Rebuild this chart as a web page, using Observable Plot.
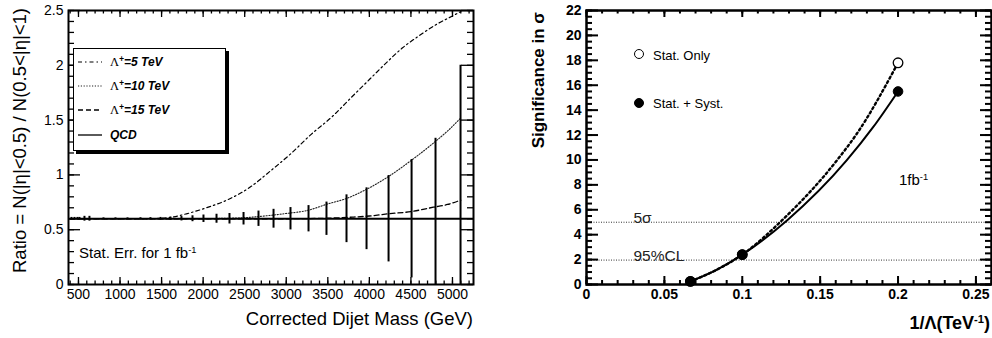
<!DOCTYPE html>
<html><head><meta charset="utf-8">
<script src="https://cdn.jsdelivr.net/npm/d3@7"></script>
<script src="https://cdn.jsdelivr.net/npm/@observablehq/plot@0.6"></script>
<style>
body{margin:0;background:#fff;}
#wrap{position:relative;width:992px;height:338px;overflow:hidden;background:#fff;font-family:"Liberation Sans",Arial,Helvetica,sans-serif;color:#000;}
.abs{position:absolute;white-space:nowrap;line-height:1;}
.sup{font-size:0.62em;position:relative;top:-0.5em;}
#leg{position:absolute;left:73px;top:48px;width:151px;height:101px;border:1px solid #000;box-shadow:3px 3px 0 #000;background:#fff;}
#leg .row{position:absolute;left:36px;font-size:12px;font-weight:bold;font-style:italic;white-space:nowrap;line-height:1;}
#leg .lam{font-family:"Liberation Serif","DejaVu Serif",serif;font-weight:normal;font-style:normal;font-size:12.5px;}
#leg .lsup{font-size:0.7em;position:relative;top:-0.45em;}
.circ{position:absolute;width:10px;height:10px;border-radius:50%;box-sizing:border-box;border:1.3px solid #000;}
</style></head><body>
<div id="wrap">
  <div id="left" style="position:absolute;left:0;top:0"></div>
  <div id="right" style="position:absolute;left:490px;top:0"></div>

  <div class="abs" style="left:0;top:0;font-size:18.5px;transform-origin:0 0;transform:translate(20px,8px) rotate(-90deg) translate(-100%,-50%)">Ratio = N(|η|&lt;0.5) / N(0.5&lt;|η|&lt;1)</div>
  <div class="abs" style="right:519px;top:310px;font-size:18.5px">Corrected Dijet Mass (GeV)</div>
  <div class="abs" style="left:79px;top:244.5px;font-size:15px">Stat. Err. for 1 fb<span class="sup">-1</span></div>

  <div id="leg">
    <svg width="151" height="101" style="position:absolute;left:0;top:0">
      <line x1="4" x2="28" y1="13" y2="13" stroke="#000" stroke-width="1.2" stroke-dasharray="4,3,1.5,3"/>
      <line x1="4" x2="28" y1="37" y2="37" stroke="#222" stroke-width="1.1" stroke-dasharray="1.2,1.6"/>
      <line x1="4" x2="28" y1="61" y2="61" stroke="#000" stroke-width="1.3" stroke-dasharray="5,3"/>
      <line x1="4" x2="28" y1="86" y2="86" stroke="#000" stroke-width="1.3"/>
    </svg>
    <div class="row" style="top:7px"><span class="lam">Λ</span><span class="lsup">+</span>=5 TeV</div>
    <div class="row" style="top:31px"><span class="lam">Λ</span><span class="lsup">+</span>=10 TeV</div>
    <div class="row" style="top:55px"><span class="lam">Λ</span><span class="lsup">+</span>=15 TeV</div>
    <div class="row" style="top:80px">QCD</div>
  </div>

  <div class="abs" style="left:0;top:0;font-size:17px;font-weight:bold;transform-origin:0 0;transform:translate(538.5px,12px) rotate(-90deg) translate(-100%,-50%)">Significance in σ</div>
  <div class="abs" style="right:2px;top:314px;font-size:18px;font-weight:bold">1/Λ(TeV<span class="sup">-1</span>)</div>
  <div class="abs" style="left:899px;top:171.5px;font-size:15px">1fb<span class="sup">-1</span></div>

  <div class="circ" style="left:634px;top:49px;background:#fff"></div>
  <div class="abs" style="left:653px;top:48.5px;font-size:13px">Stat. Only</div>
  <div class="circ" style="left:634px;top:98px;background:#000"></div>
  <div class="abs" style="left:653px;top:96.5px;font-size:13px">Stat. + Syst.</div>
</div>
<script>
// ---------- Left panel data ----------
const massBins = [416, 452, 488, 512, 572, 632, 801, 945, 1090, 1246, 1366, 1487, 1607, 1739, 1872, 2004, 2161, 2317, 2486, 2666, 2847, 3051, 3268, 3484, 3725, 3966, 4231, 4508, 4796, 5097];
const statErr  = [0.012, 0.012, 0.012, 0.012, 0.022, 0.022, 0.008, 0.008, 0.008, 0.009, 0.010, 0.012, 0.015, 0.020, 0.027, 0.034, 0.041, 0.048, 0.057, 0.070, 0.086, 0.102, 0.120, 0.152, 0.218, 0.282, 0.394, 0.540, 0.734, 1.40];
const qcdMass  = [380, 5253];
const qcdRatio = [0.6, 0.6];
const lam5Mass  = [400, 1000, 1400, 1600, 1800, 2000, 2300, 2550, 2800, 3050, 3300, 3550, 3800, 4000, 4200, 4400, 4600, 4800, 5000, 5100];
const lam5Ratio = [0.6, 0.6, 0.602, 0.612, 0.645, 0.69, 0.775, 0.88, 1.03, 1.19, 1.37, 1.53, 1.72, 1.87, 2.02, 2.16, 2.27, 2.37, 2.45, 2.49];
const lam10Mass  = [400, 1800, 2200, 2500, 2800, 3000, 3250, 3500, 3725, 3970, 4230, 4500, 4770, 4940, 5100];
const lam10Ratio = [0.6, 0.6, 0.603, 0.61, 0.63, 0.648, 0.675, 0.735, 0.785, 0.87, 0.985, 1.13, 1.29, 1.40, 1.52];
const lam15Mass  = [400, 3000, 3500, 3800, 4000, 4230, 4500, 4770, 4940, 5100];
const lam15Ratio = [0.6, 0.6, 0.605, 0.615, 0.625, 0.645, 0.665, 0.705, 0.73, 0.77];
const xTicksLeft = [500, 1000, 1500, 2000, 2500, 3000, 3500, 4000, 4500, 5000];
const yTicksLeft = [0, 0.5, 1, 1.5, 2, 2.5];

// ---------- Right panel data ----------
const invLambda   = [0.0667, 0.1, 0.2];
const sigStatOnly = [0.25, 2.4, 17.8];
const sigStatSyst = [0.25, 2.4, 15.5];
const curveStatX = [0.0667, 0.0838, 0.1, 0.1254, 0.1607, 0.1735, 0.2];
const curveStatY = [0.25, 1.2, 2.4, 5.14, 9.96, 12.1, 17.8];
const curveSystX = [0.0667, 0.0838, 0.1, 0.1287, 0.167, 0.184, 0.2];
const curveSystY = [0.25, 1.2, 2.4, 5.14, 9.96, 12.63, 15.5];
const thresholdValues = [5, 1.96];
const thresholdLabels = ["5σ", "95%CL"];
const xTicksRight = [0, 0.05, 0.1, 0.15, 0.2, 0.25];
const yTicksRight = [0, 2, 4, 6, 8, 10, 12, 14, 16, 18, 20, 22];

function frameTicks(xMaj, xMin, yMaj, yMin, fw, fh, o) {
  const sw = o.sw;
  return [
    Plot.tickX(xMaj, {x: d => d, insetTop: fh - o.xMaj, strokeWidth: sw}),
    Plot.tickX(xMaj, {x: d => d, insetBottom: fh - o.xMajTop, strokeWidth: sw}),
    Plot.tickX(xMin, {x: d => d, insetTop: fh - o.xMin, strokeWidth: sw}),
    Plot.tickX(xMin, {x: d => d, insetBottom: fh - o.xMinTop, strokeWidth: sw}),
    Plot.tickY(yMaj, {y: d => d, insetRight: fw - o.yMaj, strokeWidth: sw}),
    Plot.tickY(yMaj, {y: d => d, insetLeft: fw - o.yMajR, strokeWidth: sw}),
    Plot.tickY(yMin, {y: d => d, insetRight: fw - o.yMin, strokeWidth: sw}),
    Plot.tickY(yMin, {y: d => d, insetLeft: fw - o.yMinR, strokeWidth: sw})
  ];
}

// make sure dash patterns are set on the drawn paths
function setDashes(svg, patterns) {
  const groups = svg.querySelectorAll('g[aria-label="line"]');
  groups.forEach((g, i) => {
    if (patterns[i]) {
      g.setAttribute("stroke-dasharray", patterns[i]);
      g.querySelectorAll("path").forEach(p => p.setAttribute("stroke-dasharray", patterns[i]));
    }
  });
}

const FONT = '"Liberation Sans", Arial, Helvetica, sans-serif';
const DASH5 = "4,3,1.5,3", DASH10 = "1.2,1.6", DASH15 = "5,3", DASHSTAT = "2,3";

// ---------- Left chart ----------
const bins = massBins.map((m, i) => ({m, lo: qcdRatio[0] - statErr[i], hi: qcdRatio[0] + statErr[i]}));
const L = {w: 490, h: 338, ml: 68, mr: 17, mt: 10, mb: 54};
const lfw = L.w - L.ml - L.mr, lfh = L.h - L.mt - L.mb;
const left = Plot.plot({
  width: L.w, height: L.h, marginLeft: L.ml, marginRight: L.mr, marginTop: L.mt, marginBottom: L.mb,
  x: {domain: [380, 5253]},
  y: {domain: [0, 2.5]},
  style: {fontFamily: FONT, fontSize: "14px", color: "#000", background: "transparent", overflow: "visible"},
  marks: [
    Plot.line(lam5Mass, {x: d => d, y: (d, i) => lam5Ratio[i], curve: "monotone-x", stroke: "#000", strokeWidth: 1.2, strokeDasharray: DASH5, clip: true}),
    Plot.line(lam10Mass, {x: d => d, y: (d, i) => lam10Ratio[i], curve: "monotone-x", stroke: "#222", strokeWidth: 1.1, strokeDasharray: DASH10, clip: true}),
    Plot.line(lam15Mass, {x: d => d, y: (d, i) => lam15Ratio[i], curve: "monotone-x", stroke: "#000", strokeWidth: 1.3, strokeDasharray: DASH15, clip: true}),
    Plot.line(qcdMass, {x: d => d, y: (d, i) => qcdRatio[i], stroke: "#000", strokeWidth: 2, clip: true}),
    Plot.ruleX(bins, {x: "m", y1: "lo", y2: "hi", stroke: "#000", strokeWidth: 2, clip: true}),
    ...frameTicks(xTicksLeft, d3.range(400, 5253, 100), yTicksLeft, d3.range(0, 2.5001, 0.1), lfw, lfh,
      {sw: 1.3, xMaj: 7, xMajTop: 7, xMin: 3.5, xMinTop: 3.5, yMaj: 12, yMajR: 12, yMin: 6, yMinR: 6}),
    Plot.frame({stroke: "#000", strokeWidth: 2}),
    Plot.axisX(xTicksLeft, {anchor: "bottom", tickSize: 0, tickPadding: 5, tickFormat: d => String(d), label: null, fontSize: 14}),
    Plot.axisY(yTicksLeft, {anchor: "left", tickSize: 0, tickPadding: 5, tickFormat: d => String(d), label: null, fontSize: 14})
  ]
});
setDashes(left, [DASH5, DASH10, DASH15, null]);
document.getElementById("left").appendChild(left);

// ---------- Right chart ----------
const R = {w: 502, h: 338, ml: 96, mr: 1, mt: 10, mb: 54};
const rfw = R.w - R.ml - R.mr, rfh = R.h - R.mt - R.mb;
const right = Plot.plot({
  width: R.w, height: R.h, marginLeft: R.ml, marginRight: R.mr, marginTop: R.mt, marginBottom: R.mb,
  x: {domain: [0, 0.26]},
  y: {domain: [0, 22]},
  style: {fontFamily: FONT, fontSize: "14px", fontWeight: "bold", color: "#000", background: "transparent", overflow: "visible"},
  marks: [
    Plot.ruleY(thresholdValues, {y: d => d, stroke: "#333", strokeWidth: 1, strokeDasharray: "1,1.5"}),
    Plot.text(thresholdValues, {y: d => d, text: (d, i) => thresholdLabels[i], frameAnchor: "left", dx: 47, dy: 1, textAnchor: "start", lineAnchor: "bottom", fontSize: 15.5, fontWeight: "normal", fill: "#222"}),
    Plot.line(curveStatX, {x: d => d, y: (d, i) => curveStatY[i], curve: "monotone-x", stroke: "#000", strokeWidth: 2.4, strokeDasharray: DASHSTAT}),
    Plot.line(curveSystX, {x: d => d, y: (d, i) => curveSystY[i], curve: "monotone-x", stroke: "#000", strokeWidth: 2}),
    Plot.dot(invLambda, {x: d => d, y: (d, i) => sigStatOnly[i], r: 4.8, fill: "#fff", stroke: "#000", strokeWidth: 1.3}),
    Plot.dot(invLambda, {x: d => d, y: (d, i) => sigStatSyst[i], r: 4.8, fill: "#000", stroke: "#000", strokeWidth: 1}),
    ...frameTicks(xTicksRight, d3.range(0, 0.2601, 0.01), yTicksRight, d3.range(0, 22.001, 0.5), rfw, rfh,
      {sw: 2, xMaj: 8, xMajTop: 7, xMin: 4, xMinTop: 3.5, yMaj: 12, yMajR: 11, yMin: 6, yMinR: 6}),
    Plot.frame({stroke: "#000", strokeWidth: 2.5}),
    Plot.axisX(xTicksRight, {anchor: "bottom", tickSize: 0, tickPadding: 5, tickFormat: d => String(d), label: null, fontSize: 14, fontWeight: "bold"}),
    Plot.axisY(yTicksRight, {anchor: "left", tickSize: 0, tickPadding: 5, tickFormat: d => String(d), label: null, fontSize: 14, fontWeight: "bold"})
  ]
});
setDashes(right, [DASHSTAT, null]);
document.getElementById("right").appendChild(right);
</script>
</body></html>
